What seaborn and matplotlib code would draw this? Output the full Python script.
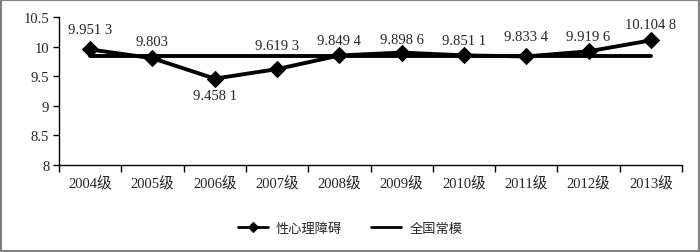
import numpy as np
import pandas as pd
import matplotlib.pyplot as plt
import seaborn as sns
from matplotlib.patches import Rectangle

# data
grades = ['2004级', '2005级', '2006级', '2007级', '2008级',
          '2009级', '2010级', '2011级', '2012级', '2013级']
values = [9.9513, 9.803, 9.4581, 9.6193, 9.8494, 9.8986, 9.8511, 9.8334, 9.9196, 10.1048]
value_labels = ['9.951 3', '9.803', '9.458 1', '9.619 3', '9.849 4',
                '9.898 6', '9.851 1', '9.833 4', '9.919 6', '10.104 8']
norm_value = 9.84

sns.set_style('white')
plt.rcParams['font.family'] = ['Liberation Serif', 'Noto Sans CJK SC', 'DejaVu Sans']

df = pd.DataFrame({'grade': grades, 'value': values, 'norm': [norm_value] * len(grades)})
df['pos'] = np.arange(len(grades))

fig = plt.figure(figsize=(7, 2.53), dpi=100)
ax = fig.add_axes([0.0843, 0.344, 0.8900, 0.585])

sns.lineplot(data=df, x='pos', y='norm', ax=ax, color='black', lw=2.8,
             label='全国常模', zorder=2)
sns.lineplot(data=df, x='pos', y='value', ax=ax, color='black', lw=2.8,
             marker='D', markersize=8, markeredgecolor='black',
             label='性心理障碍', zorder=3)

# value labels (vertical offset of each label, in pixels)
label_dy = [20, 17, -17, 24, 15, 13, 15, 20, 15, 16]
for i, (v, t) in enumerate(zip(values, value_labels)):
    ax.annotate(t, (i, v), xytext=(0, label_dy[i] * 0.72), textcoords='offset points',
                ha='center', va='center', fontsize=10.5)

ax.set_xlim(-0.5, len(grades) - 0.5)
ax.set_ylim(8, 10.5)
ax.set_yticks([8, 8.5, 9, 9.5, 10, 10.5])
ax.set_yticklabels(['8', '8.5', '9', '9.5', '10', '10.5'], fontsize=10.5)
ax.set_xticks(np.arange(-0.5, len(grades), 1.0))
ax.set_xticklabels([])
ax.set_xticks(np.arange(len(grades)), minor=True)
ax.set_xticklabels(grades, minor=True, fontsize=10.5)
ax.tick_params(axis='x', which='major', direction='out', length=5, width=1, bottom=True, color='black')
ax.tick_params(axis='x', which='minor', length=0, pad=8)
ax.tick_params(axis='y', direction='out', length=4, width=1, left=True, color='black', pad=3)
ax.set_xlabel('')
ax.set_ylabel('')
for s in ['top', 'right']:
    ax.spines[s].set_visible(False)
for s in ['left', 'bottom']:
    ax.spines[s].set_color('black')
    ax.spines[s].set_linewidth(1)

h, l = ax.get_legend_handles_labels()
leg = ax.legend(h[::-1], l[::-1], loc='center', bbox_to_anchor=(0.467, -0.43),
                ncol=2, frameon=False, fontsize=9.5, handlelength=2.3,
                columnspacing=2.2, handletextpad=0.6, markerscale=0.6)
for ln in leg.get_lines():
    ln.set_linewidth(2)

fig.patches.append(Rectangle((0.001, 0.002), 0.997, 0.995, transform=fig.transFigure,
                             fill=False, edgecolor='#808080', lw=1.5))

fig.savefig('out.png', dpi=100)
